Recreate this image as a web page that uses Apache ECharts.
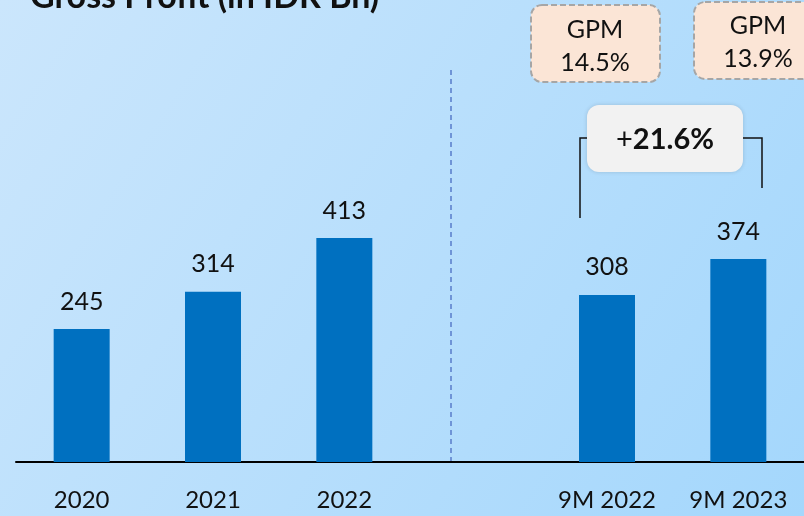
<!DOCTYPE html>
<html><head><meta charset="utf-8">
<script src="https://cdn.jsdelivr.net/npm/echarts@6/dist/echarts.min.js"></script>
<style>html,body{margin:0;padding:0;}#c{width:804px;height:516px;}</style>
</head><body><div id="c"></div>
<script>
const categories = ['2020', '2021', '2022', '', '9M 2022', '9M 2023'];
const grossProfit = [245, 314, 413, '-', 308, 374];
const gpmLabels = ['GPM\n14.5%', 'GPM\n13.9%'];
const growthLabel = '21.6%';
const titleText = 'Gross Profit (in IDR Bn)';
const FONT = 'Lato, "Liberation Sans", sans-serif';

const chart = echarts.init(document.getElementById('c'));
chart.setOption({
  backgroundColor: new echarts.graphic.LinearGradient(0, 0, 1, 1, [
    {offset: 0, color: '#cbe6fc'},
    {offset: 1, color: '#a4d7fc'}
  ]),
  animation: false,
  grid: {left: 16, right: 0, top: 28, bottom: 54},
  xAxis: {
    type: 'category', data: categories,
    axisLine: {lineStyle: {color: '#000', width: 2}},
    axisTick: {show: false},
    axisLabel: {color: '#111', fontSize: 24, fontFamily: FONT, margin: 26}
  },
  yAxis: {type: 'value', min: 0, max: 800, show: false, splitLine: {show: false}},
  series: [{
    type: 'bar', data: grossProfit, barWidth: 56,
    itemStyle: {color: '#0070c0'},
    label: {show: true, position: 'top', distance: 15, color: '#111', fontSize: 25, fontFamily: FONT}
  }],
  graphic: [
    {type: 'text', left: 30, top: -20, style: {text: titleText, fill: '#111', font: 'bold 34px ' + FONT}},
    {type: 'line', shape: {x1: 451, y1: 70, x2: 451, y2: 465}, style: {stroke: '#6f94d6', lineWidth: 2, lineDash: [5, 4]}},
    {type: 'rect', shape: {x: 531, y: 5, width: 129, height: 77, r: 11}, style: {fill: '#fbe5d6', stroke: '#a6a6a6', lineWidth: 2, lineDash: [6, 3]}},
    {type: 'text', x: 595, y: 46, style: {text: gpmLabels[0], font: '25px ' + FONT, lineHeight: 33, fill: '#111', align: 'center', verticalAlign: 'middle'}},
    {type: 'rect', shape: {x: 694, y: 2, width: 130, height: 77, r: 11}, style: {fill: '#fbe5d6', stroke: '#a6a6a6', lineWidth: 2, lineDash: [6, 3]}},
    {type: 'text', x: 758, y: 42, style: {text: gpmLabels[1], font: '25px ' + FONT, lineHeight: 33, fill: '#111', align: 'center', verticalAlign: 'middle'}},
    {type: 'polyline', shape: {points: [[580, 218], [580, 138], [590, 138]]}, style: {stroke: '#111', lineWidth: 1.5, fill: null}},
    {type: 'polyline', shape: {points: [[740, 138], [762, 138], [762, 188]]}, style: {stroke: '#111', lineWidth: 1.5, fill: null}},
    {type: 'rect', shape: {x: 587, y: 105, width: 156, height: 67, r: 12}, style: {fill: '#f2f2f2', shadowBlur: 4, shadowColor: 'rgba(0,0,0,0.15)'}},
    {type: 'text', x: 665, y: 140, style: {
      text: '{n|+}{b|' + growthLabel + '}', align: 'center', verticalAlign: 'middle',
      rich: {n: {font: '29px ' + FONT, fill: '#111'}, b: {font: 'bold 29px ' + FONT, fill: '#111'}}
    }}
  ]
});
</script></body></html>
